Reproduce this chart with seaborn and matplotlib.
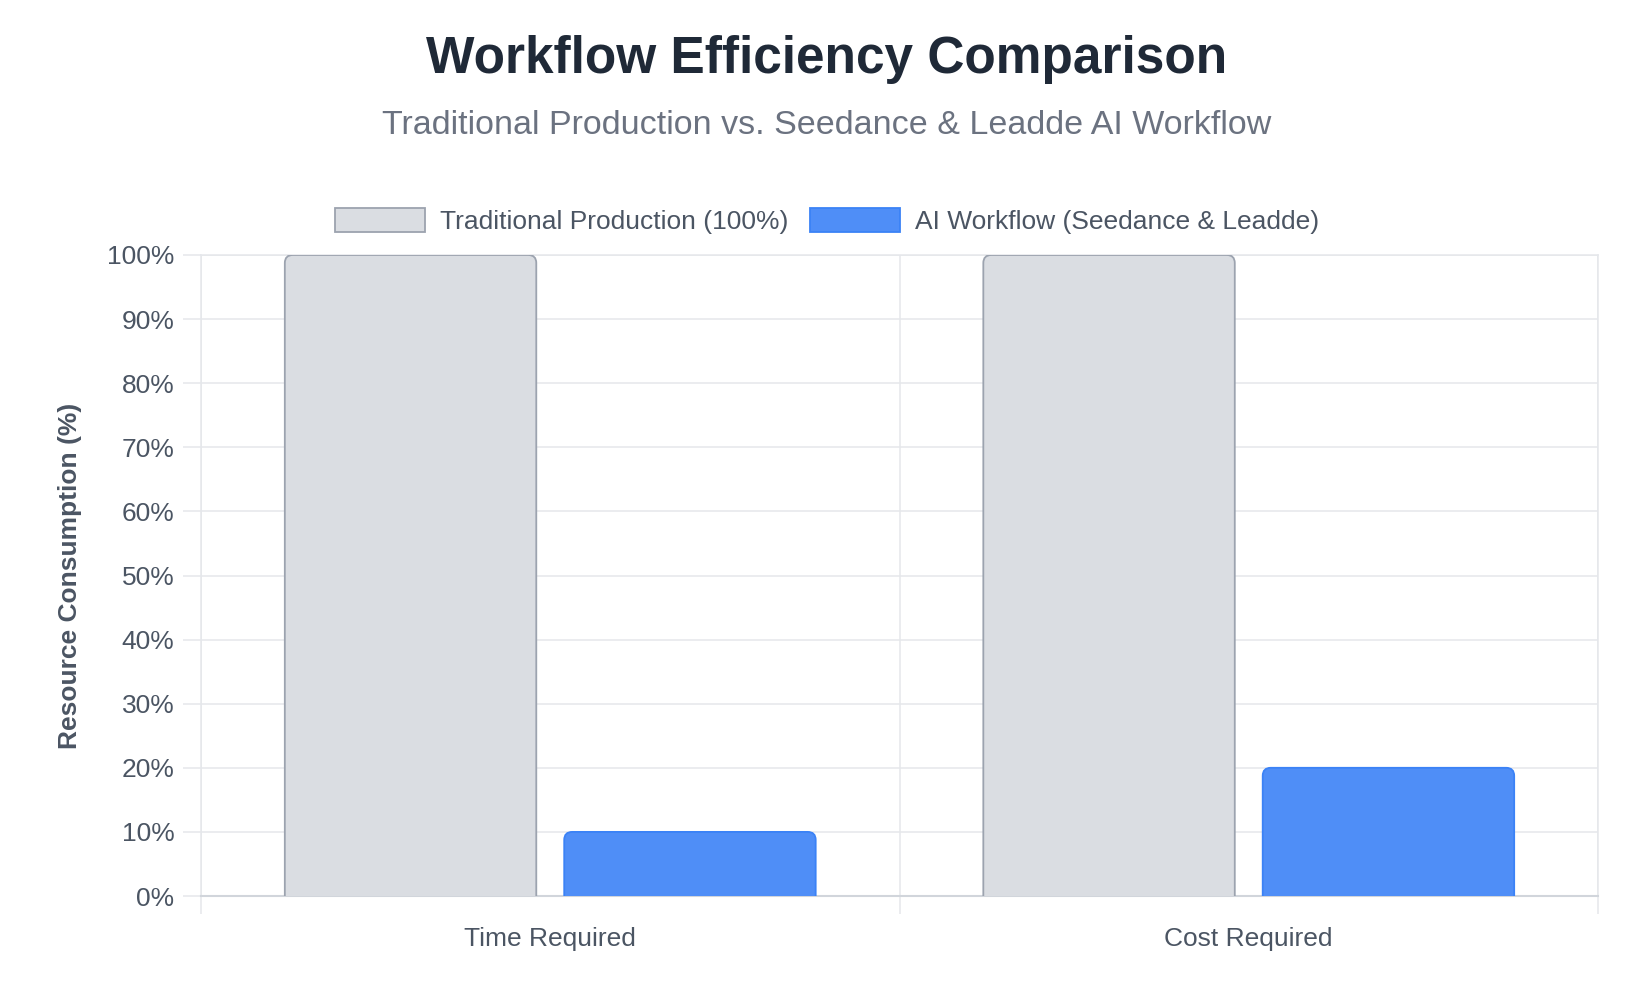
import matplotlib
matplotlib.use("Agg")
import matplotlib.pyplot as plt
import seaborn as sns
import pandas as pd
from matplotlib.patches import FancyBboxPatch, Patch
from matplotlib.ticker import FixedLocator, PercentFormatter

# chart data
categories = ["Time Required", "Cost Required"]
series_names = ["Traditional Production (100%)", "AI Workflow (Seedance & Leadde)"]
traditional = [100, 100]
ai_workflow = [10, 20]

fill_colors = ["#dadde2", "#4f8ef7"]
edge_colors = ["#9ca3af", "#3b82f6"]

df = pd.DataFrame({
    "category": categories * 2,
    "series": [series_names[0]] * len(categories) + [series_names[1]] * len(categories),
    "value": traditional + ai_workflow,
})

sns.set_theme(style="white")
plt.rcParams["font.family"] = ["Liberation Sans", "DejaVu Sans"]

W, H = 1630, 998
fig = plt.figure(figsize=(W / 100, H / 100), dpi=100)
ax_l, ax_r, ax_t, ax_b = 201, 1598, 255, 896
ax = fig.add_axes([ax_l / W, 1 - ax_b / H, (ax_r - ax_l) / W, (ax_b - ax_t) / H])

sns.barplot(data=df, x="category", y="value", hue="series", order=categories,
            hue_order=series_names, palette=fill_colors, width=0.8, gap=0.1,
            saturation=1, legend=False, ax=ax)

ax.set_xlim(-0.5, len(categories) - 0.5)
ax.set_ylim(0, 100)

# swap plain bars for ones with rounded tops (Chart.js borderRadius look)
px_x = (len(categories)) / (ax_r - ax_l)
px_y = 100 / (ax_b - ax_t)
rad = 8
bars = list(ax.patches)
for i, p in enumerate(bars):
    s = i // len(categories)
    x, y, w, h = p.get_x(), p.get_y(), p.get_width(), p.get_height()
    rb = FancyBboxPatch((x, y - rad * px_y), w, h + rad * px_y,
                        boxstyle=f"round,pad=0,rounding_size={rad * px_x}",
                        mutation_aspect=px_y / px_x,
                        facecolor=fill_colors[s], edgecolor=edge_colors[s],
                        linewidth=1.3, zorder=3)
    rb.set_clip_path(ax.patch)
    p.remove()
    ax.add_patch(rb)

grid_c = "#e5e7eb"
tick_c = "#4b5563"

ax.yaxis.set_major_locator(FixedLocator(range(0, 101, 10)))
ax.yaxis.set_major_formatter(PercentFormatter(decimals=0))
ax.xaxis.set_minor_locator(FixedLocator([i - 0.5 for i in range(len(categories) + 1)]))
ax.grid(axis="y", color=grid_c, linewidth=1.1, zorder=0)
ax.grid(axis="x", which="minor", color=grid_c, linewidth=1.1, zorder=0)
ax.grid(axis="x", which="major", visible=False)
ax.set_axisbelow(True)

ax.tick_params(axis="y", length=13, width=1.1, color=grid_c, pad=6,
               labelsize=19, labelcolor=tick_c, left=True)
ax.tick_params(axis="x", which="major", length=0, pad=22, labelsize=19,
               labelcolor=tick_c)
ax.tick_params(axis="x", which="minor", length=13, width=1.1, color=grid_c,
               bottom=True)

for side in ["top", "right", "left"]:
    ax.spines[side].set_color(grid_c)
    ax.spines[side].set_linewidth(1.1)
ax.spines["bottom"].set_color("#d1d5db")
ax.spines["bottom"].set_linewidth(1.5)

ax.set_xlabel("")
ax.set_ylabel("Resource Consumption (%)", fontsize=19, fontweight="bold",
              color=tick_c, labelpad=18)

cx = 827 / W
fig.text(cx, 1 - 59 / H, "Workflow Efficiency Comparison", ha="center", va="center",
         fontsize=37, fontweight="bold", color="#1f2937")
fig.text(cx, 1 - 125 / H, "Traditional Production vs. Seedance & Leadde AI Workflow",
         ha="center", va="center", fontsize=24.5, color="#6b7280")

handles = [Patch(facecolor=fill_colors[i], edgecolor=edge_colors[i], linewidth=1.3)
           for i in range(len(series_names))]
leg = fig.legend(handles, series_names, loc="center", bbox_to_anchor=(cx, 1 - 221 / H),
                 ncol=2, frameon=False, fontsize=19, handlelength=3.4, handleheight=1.05,
                 handletextpad=0.55, columnspacing=0.85)
for t in leg.get_texts():
    t.set_color(tick_c)

fig.savefig("out.png", dpi=100)
